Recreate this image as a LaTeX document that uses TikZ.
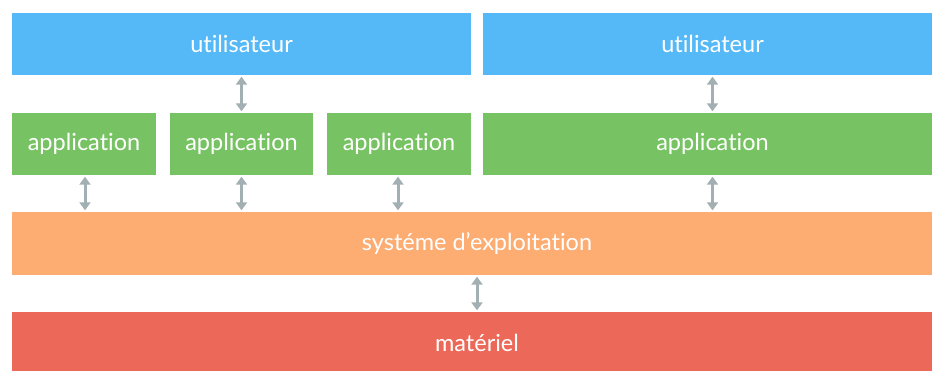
\documentclass[tikz,border=0pt]{standalone}
\usepackage{fontspec}
\setmainfont[Ligatures=NoCommon]{Lato}
\usetikzlibrary{arrows.meta}
\definecolor{userblue}{HTML}{55B9F7}
\definecolor{appgreen}{HTML}{77C363}
\definecolor{osorange}{HTML}{FDAC72}
\definecolor{hwred}{HTML}{EC6858}
\definecolor{linkgray}{HTML}{A2AFB3}
\begin{document}
\begin{tikzpicture}[x=1pt,y=1pt,
  layer/.style={rectangle, inner sep=0pt, text=white,
    font=\fontsize{23.5}{28}\selectfont, minimum height=62pt},
  link/.style={draw=linkgray, line width=3pt,
    {Triangle[width=11pt,length=8pt]}-{Triangle[width=11pt,length=8pt]},
    shorten <=1.5pt, shorten >=1.5pt}]
\useasboundingbox (0,0) rectangle (932,370);
\clip (0,0) rectangle (932,370);
\fill[white] (0,0) rectangle (932,370);

% users (the right-hand bands run past the right edge)
\node[layer, fill=userblue, minimum width=459pt] (uL) at (241.5,326) {utilisateur};
\node[layer, fill=userblue, minimum width=459pt] (uR) at (712.5,326) {utilisateur};

% applications
\node[layer, fill=appgreen, minimum width=144pt] (a1) at (84,226) {application};
\node[layer, fill=appgreen, minimum width=143pt] (a2) at (241.5,226) {application};
\node[layer, fill=appgreen, minimum width=144pt] (a3) at (399,226) {application};
\node[layer, fill=appgreen, minimum width=459pt] (aR) at (712.5,226) {application};

% operating system
\node[layer, fill=osorange, minimum width=930pt, minimum height=63pt] (os) at (477,126.5) {systéme d’exploitation};

% hardware
\node[layer, fill=hwred, minimum width=930pt, minimum height=62pt] (hw) at (477,27) {matériel};

% links between layers
\draw[link] (a2.north) -- (a2.north |- uL.south);
\draw[link] (aR.north) -- (uR.south);
\draw[link] ([xshift=1pt]a1.south) -- ([xshift=1pt]a1.south |- os.north);
\draw[link] (a2.south) -- (a2.south |- os.north);
\draw[link] ([xshift=-1pt]a3.south) -- ([xshift=-1pt]a3.south |- os.north);
\draw[link] (aR.south) -- (aR.south |- os.north);
\draw[link] (os.south) -- (hw.north);
\end{tikzpicture}
\end{document}
